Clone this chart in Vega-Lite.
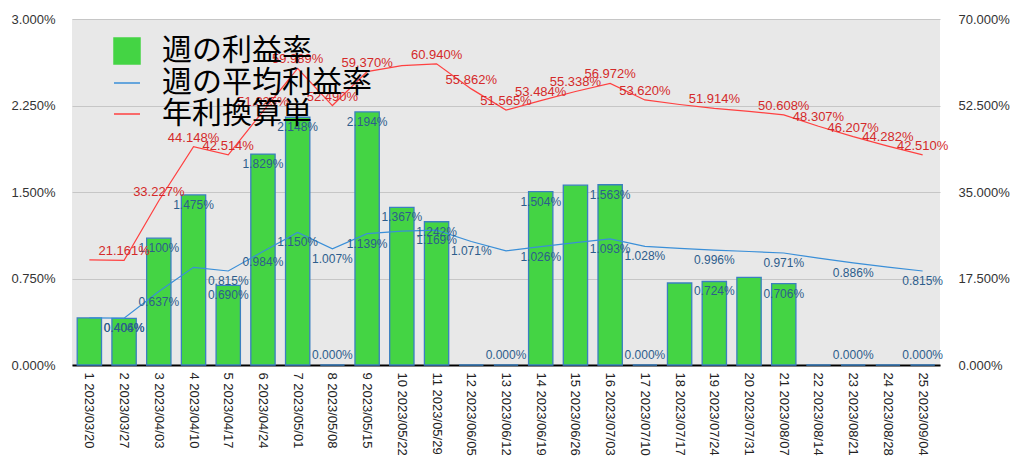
{
  "$schema": "https://vega.github.io/schema/vega-lite/v6.json",
  "autosize": {"type": "none"},
  "width": 868,
  "height": 346,
  "padding": {"left": 72, "top": 19, "right": 84, "bottom": 108},
  "background": "#ffffff",
  "config": {
    "font": "Liberation Sans",
    "view": {"fill": "#e8e8e8", "stroke": null},
    "axis": {"labelFont": "Liberation Sans", "labelFontSize": 13, "labelColor": "#333333", "ticks": false, "domain": false, "title": null},
    "legend": {
      "orient": "none", "legendX": 40, "legendY": 17, "title": null, "padding": 0,
      "labelFont": "Noto Sans CJK JP", "labelFontSize": 30, "labelColor": "#000000", "labelLimit": 500,
      "symbolSize": 676, "rowPadding": 1, "labelOffset": 20
    }
  },
  "data": {"values": [
    {"w": 1, "label": "1 2023/03/20", "rate": 0.00408, "avg": 0.00408, "annual": 0.2127},
    {"w": 2, "label": "2 2023/03/27", "rate": 0.00404, "avg": 0.00406, "annual": 0.21161},
    {"w": 3, "label": "3 2023/04/03", "rate": 0.01100, "avg": 0.00637, "annual": 0.33227},
    {"w": 4, "label": "4 2023/04/10", "rate": 0.01475, "avg": 0.00847, "annual": 0.44148},
    {"w": 5, "label": "5 2023/04/17", "rate": 0.00690, "avg": 0.00815, "annual": 0.42514},
    {"w": 6, "label": "6 2023/04/24", "rate": 0.01829, "avg": 0.00984, "annual": 0.51325},
    {"w": 7, "label": "7 2023/05/01", "rate": 0.02148, "avg": 0.01150, "annual": 0.59989},
    {"w": 8, "label": "8 2023/05/08", "rate": 0.0, "avg": 0.01007, "annual": 0.52490},
    {"w": 9, "label": "9 2023/05/15", "rate": 0.02194, "avg": 0.01139, "annual": 0.59370},
    {"w": 10, "label": "10 2023/05/22", "rate": 0.01367, "avg": 0.01161, "annual": 0.6056},
    {"w": 11, "label": "11 2023/05/29", "rate": 0.01242, "avg": 0.01169, "annual": 0.60940},
    {"w": 12, "label": "12 2023/06/05", "rate": 0.0, "avg": 0.01071, "annual": 0.55862},
    {"w": 13, "label": "13 2023/06/12", "rate": 0.0, "avg": 0.00989, "annual": 0.51565},
    {"w": 14, "label": "14 2023/06/19", "rate": 0.01504, "avg": 0.01026, "annual": 0.53484},
    {"w": 15, "label": "15 2023/06/26", "rate": 0.01559, "avg": 0.01061, "annual": 0.55338},
    {"w": 16, "label": "16 2023/07/03", "rate": 0.01563, "avg": 0.01093, "annual": 0.56972},
    {"w": 17, "label": "17 2023/07/10", "rate": 0.0, "avg": 0.01028, "annual": 0.53620},
    {"w": 18, "label": "18 2023/07/17", "rate": 0.00711, "avg": 0.01011, "annual": 0.5270},
    {"w": 19, "label": "19 2023/07/24", "rate": 0.00724, "avg": 0.00996, "annual": 0.51914},
    {"w": 20, "label": "20 2023/07/31", "rate": 0.00759, "avg": 0.00984, "annual": 0.5130},
    {"w": 21, "label": "21 2023/08/07", "rate": 0.00706, "avg": 0.00971, "annual": 0.50608},
    {"w": 22, "label": "22 2023/08/14", "rate": 0.0, "avg": 0.00926, "annual": 0.48307},
    {"w": 23, "label": "23 2023/08/21", "rate": 0.0, "avg": 0.00886, "annual": 0.46207},
    {"w": 24, "label": "24 2023/08/28", "rate": 0.0, "avg": 0.00849, "annual": 0.44282},
    {"w": 25, "label": "25 2023/09/04", "rate": 0.0, "avg": 0.00815, "annual": 0.42510}
  ]},
  "encoding": {
    "x": {
      "field": "label", "type": "nominal", "sort": null,
      "scale": {"paddingInner": 0.3, "paddingOuter": 0.15},
      "axis": {"labelAngle": 90, "labelAlign": "left", "labelBaseline": "middle", "labelPadding": 7, "domain": true, "domainColor": "#000000", "domainWidth": 2, "labelColor": "#222222", "grid": false}
    }
  },
  "layer": [
    {
      "layer": [
        {
          "mark": {"type": "bar", "stroke": "#3a7fc0", "strokeWidth": 1.3},
          "encoding": {
            "y": {"field": "rate", "type": "quantitative", "scale": {"domain": [0, 0.03], "nice": false},
                  "axis": {"orient": "left", "values": [0, 0.0075, 0.015, 0.0225, 0.03], "format": ".3%", "labelPadding": 17, "grid": true, "gridColor": "#c6c6c6"}},
            "color": {"datum": "週の利益率", "type": "nominal",
              "scale": {"domain": ["週の利益率", "週の平均利益率", "年利換算単"], "range": ["#44d444", "#3a8fd8", "#ff4040"]},
              "legend": {
                "encode": {"symbols": {"update": {
                  "shape": {"signal": "datum.value === '週の利益率' ? 'square' : 'stroke'"},
                  "fill": {"signal": "datum.value === '週の利益率' ? '#44d444' : 'transparent'"},
                  "stroke": {"signal": "datum.value === '週の利益率' ? '#3a7fc0' : (datum.value === '週の平均利益率' ? '#3a8fd8' : '#ff4040')"},
                  "strokeWidth": {"value": 1.5}
                }}}
              }
            }
          }
        },
        {
          "mark": {"type": "line", "strokeWidth": 1.2},
          "encoding": {
            "y": {"field": "avg", "type": "quantitative", "scale": {"domain": [0, 0.03], "nice": false},
                  "axis": {"orient": "left", "values": [0, 0.0075, 0.015, 0.0225, 0.03], "format": ".3%", "labelPadding": 17, "grid": true, "gridColor": "#c6c6c6"}},
            "color": {"datum": "週の平均利益率", "type": "nominal",
              "legend": {
                "encode": {"symbols": {"update": {
                  "shape": {"signal": "datum.value === '週の利益率' ? 'square' : 'stroke'"},
                  "fill": {"signal": "datum.value === '週の利益率' ? '#44d444' : 'transparent'"},
                  "stroke": {"signal": "datum.value === '週の利益率' ? '#3a7fc0' : (datum.value === '週の平均利益率' ? '#3a8fd8' : '#ff4040')"},
                  "strokeWidth": {"value": 1.5}
                }}}
              }
            }
          }
        },
        {
          "transform": [{"filter": {"field": "w", "oneOf": [2, 3, 4, 5, 6, 7, 9, 10, 11, 14, 16, 19, 21]}}],
          "mark": {"type": "text", "dy": 10, "baseline": "middle", "fontSize": 12, "color": "#2d5d8c"},
          "encoding": {
            "y": {"field": "rate", "type": "quantitative"},
            "text": {"field": "rate", "format": ".3%"}
          }
        },
        {
          "transform": [{"filter": {"field": "w", "oneOf": [8, 13, 17, 23, 25]}}],
          "mark": {"type": "text", "dy": -10, "baseline": "middle", "fontSize": 12, "color": "#2d5d8c"},
          "encoding": {
            "y": {"field": "rate", "type": "quantitative"},
            "text": {"field": "rate", "format": ".3%"}
          }
        },
        {
          "transform": [{"filter": {"field": "w", "oneOf": [2, 3, 5, 6, 7, 8, 9, 11, 12, 14, 16, 17, 19, 21, 23, 25]}}],
          "mark": {"type": "text", "dy": 10, "baseline": "middle", "fontSize": 12, "color": "#2d5d8c"},
          "encoding": {
            "y": {"field": "avg", "type": "quantitative"},
            "text": {"field": "avg", "format": ".3%"}
          }
        }
      ]
    },
    {
      "layer": [
        {
          "mark": {"type": "line", "strokeWidth": 1.2},
          "encoding": {
            "y": {"field": "annual", "type": "quantitative", "scale": {"domain": [0, 0.7], "nice": false},
                  "axis": {"orient": "right", "values": [0, 0.175, 0.35, 0.525, 0.7], "format": ".3%", "labelPadding": 18, "grid": false}},
            "color": {"datum": "年利換算単", "type": "nominal",
              "legend": {
                "encode": {"symbols": {"update": {
                  "shape": {"signal": "datum.value === '週の利益率' ? 'square' : 'stroke'"},
                  "fill": {"signal": "datum.value === '週の利益率' ? '#44d444' : 'transparent'"},
                  "stroke": {"signal": "datum.value === '週の利益率' ? '#3a7fc0' : (datum.value === '週の平均利益率' ? '#3a8fd8' : '#ff4040')"},
                  "strokeWidth": {"value": 1.5}
                }}}
              }
            }
          }
        },
        {
          "transform": [{"filter": {"field": "w", "oneOf": [2, 3, 4, 5, 6, 7, 8, 9, 11, 12, 13, 14, 15, 16, 17, 19, 21, 22, 23, 24, 25]}}],
          "mark": {"type": "text", "dy": -9, "baseline": "middle", "fontSize": 13, "color": "#d42a2a"},
          "encoding": {
            "y": {"field": "annual", "type": "quantitative", "scale": {"domain": [0, 0.7], "nice": false},
                  "axis": {"orient": "right", "values": [0, 0.175, 0.35, 0.525, 0.7], "format": ".3%", "labelPadding": 18, "grid": false}},
            "text": {"field": "annual", "format": ".3%"}
          }
        }
      ]
    }
  ],
  "resolve": {"scale": {"y": "independent"}}
}
